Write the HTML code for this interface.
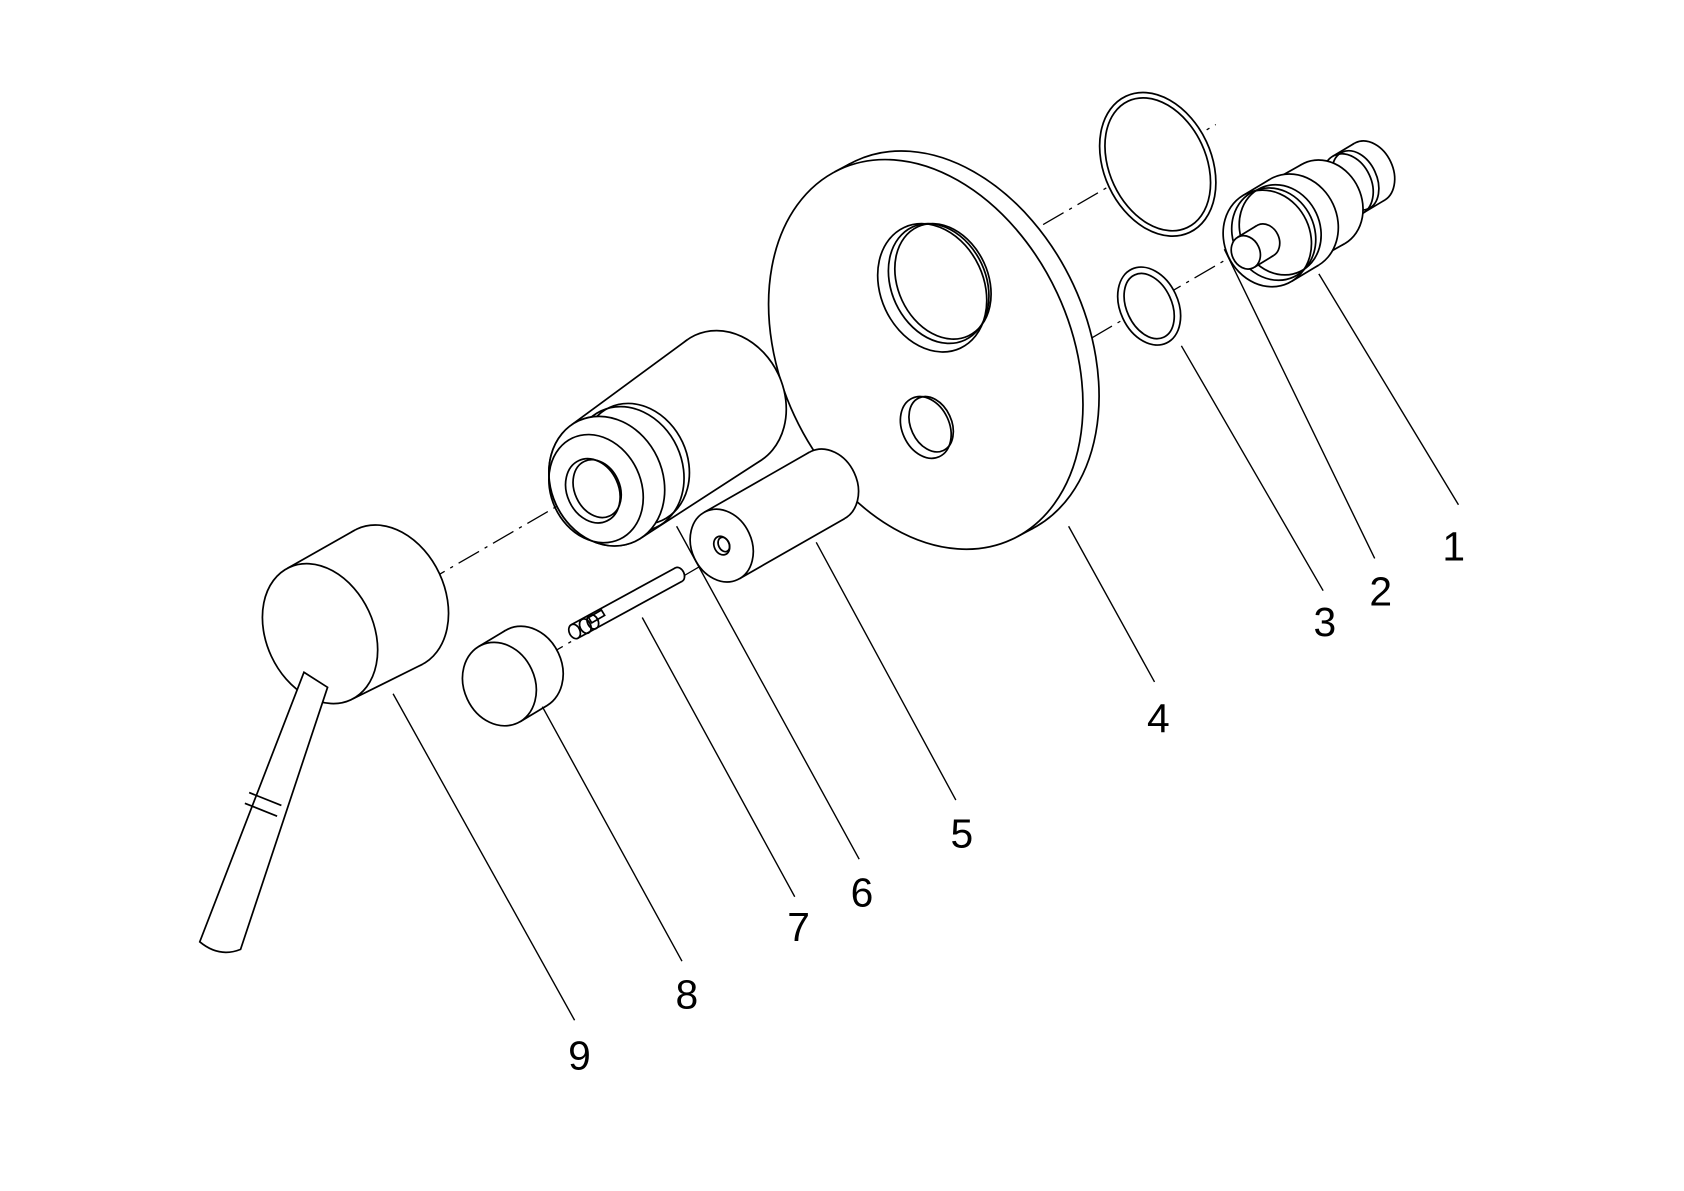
<!DOCTYPE html>
<html><head><meta charset="utf-8"><style>
html,body{margin:0;padding:0;background:#fff;width:1684px;height:1191px;overflow:hidden}
svg{display:block}
text{font-family:"Liberation Sans",sans-serif;font-size:38px;fill:#000}
</style></head><body>
<svg id="s" width="1684" height="1191" viewBox="0 0 1568 1109" preserveAspectRatio="none" xmlns="http://www.w3.org/2000/svg">
<g stroke="#000" stroke-width="1.2" fill="none" stroke-dasharray="22,6,3,6">
<line x1="395" y1="543" x2="1132" y2="116"/>
<line x1="505" y1="613" x2="1292" y2="154"/>
</g>
<g id="parts" stroke="#000" stroke-width="1.6" fill="#fff"></g>
<g stroke="#000" stroke-width="1.3">
<line x1="1228" y1="255" x2="1358" y2="470"/>
<line x1="1140" y1="232" x2="1280" y2="520"/>
<line x1="1100" y1="322" x2="1232" y2="550"/>
<line x1="995" y1="490" x2="1075" y2="635"/>
<line x1="760" y1="505" x2="890" y2="745"/>
<line x1="630" y1="490" x2="800" y2="800"/>
<line x1="598" y1="575" x2="740" y2="835"/>
<line x1="505" y1="658" x2="635" y2="895"/>
<line x1="366" y1="646" x2="535" y2="950"/>
</g>
<text x="1343" y="522">1</text>
<text x="1275" y="564">2</text>
<text x="1223" y="592">3</text>
<text x="1068" y="682">4</text>
<text x="885" y="789">5</text>
<text x="792" y="844">6</text>
<text x="733" y="876">7</text>
<text x="629" y="939">8</text>
<text x="529" y="996">9</text>
</svg>
<script>
var NS="http://www.w3.org/2000/svg",G=document.getElementById("parts"),ROT=-25;
function el(n,a){var e=document.createElementNS(NS,n);for(var k in a)e.setAttribute(k,a[k]);G.appendChild(e);return e;}
function ell(cx,cy,a,b,f){return el("ellipse",{cx:cx,cy:cy,rx:a,ry:b,transform:"rotate("+ROT+" "+cx+" "+cy+")",fill:f===undefined?"#fff":f});}
function tp(c,a,b,d){var r=ROT*Math.PI/180,cs=Math.cos(r),sn=Math.sin(r);
 var u=cs*d[0]+sn*d[1],v=-sn*d[0]+cs*d[1];var t=Math.atan2(-b*u,a*v);
 var out=[];[t,t+Math.PI].forEach(function(tt){var x=a*Math.cos(tt),y=b*Math.sin(tt);out.push([c[0]+cs*x-sn*y,c[1]+sn*x+cs*y]);});return out;}
function cyl(f,r,a,b,a2,b2){a2=a2||a;b2=b2||b;var d=[r[0]-f[0],r[1]-f[1]];
 ell(r[0],r[1],a2,b2);var p=tp(f,a,b,d),q=tp(r,a2,b2,d);
 el("polygon",{points:[p[0],q[0],q[1],p[1]].map(function(z){return z.join(",")}).join(" "),stroke:"none"});
 el("line",{x1:p[0][0],y1:p[0][1],x2:q[0][0],y2:q[0][1]});el("line",{x1:p[1][0],y1:p[1][1],x2:q[1][0],y2:q[1][1]});
 ell(f[0],f[1],a,b);}
// rings
ell(1078,153,50,70);ell(1078,153,45,65,"none");
ell(1070,285,27,38);ell(1070,285,21,32,"none");
// valve
cyl([1255,172],[1275,160],22,30);
el("ellipse",{cx:1262,cy:168,rx:20,ry:29,transform:"rotate(-25 1262 168)",fill:"none"});
cyl([1200,208],[1232,190],36,42);
cyl([1180,222],[1205,207],40,46);
ell(1186,218,38,44,"none");ell(1192,214,37,43,"none");
cyl([1160,235],[1178,224],13,16);
// plate
cyl([862,330],[877,322],135,190);
ell(868,268,48,62);ell(874,264,44,58,"none");ell(878,262,42,56,"none");
ell(862,398,22,30);ell(867,395,19,27,"none");
// cyl 6
cyl([565,448],[675,372],52,62,55,66);
ell(585,437,50,60);ell(592,432,48,58,"none");
ell(565,448,52,62);ell(555,455,42,52,"none");
ell(552,457,24,31);ell(556,455,21,28,"none");
// cyl 5
cyl([672,508],[770,452],28,35);
ell(672,508,7,9);ell(674,507,5,7,"none");
// pin 7
cyl([535,588],[632,535],5,7);
ell(545,583,5,7,"none");ell(552,579,5,7,"none");
el("polygon",{points:"548,575 560,568 563,573 551,580",fill:"none"});
// cap 8
cyl([465,637],[490,622],33,40);
// handle 9
cyl([298,590],[362,556],50,68,52,70);
// lever
el("path",{d:"M283,626 L305,640 L224,884 Q204,892 186,877 Z"});
el("line",{x1:232,y1:738,x2:262,y2:750});el("line",{x1:228,y1:748,x2:258,y2:760});
</script>
</body></html>
